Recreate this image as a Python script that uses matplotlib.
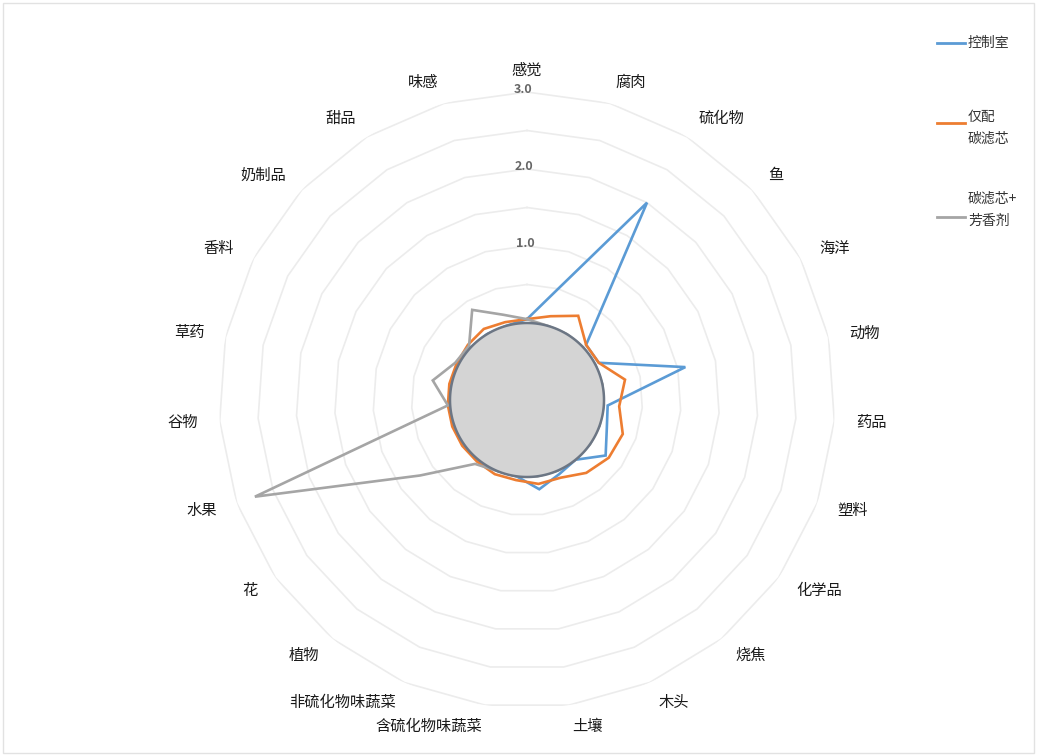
import numpy as np
import matplotlib
matplotlib.use("Agg")
import matplotlib.pyplot as plt
from matplotlib.lines import Line2D
from matplotlib.patches import Rectangle

plt.rcParams['font.family'] = ['Noto Sans CJK SC', 'DejaVu Sans']

# 气味类别（顺时针，从正上方开始）
categories = ['感觉', '腐肉', '硫化物', '鱼', '海洋', '动物', '药品', '塑料', '化学品',
              '烧焦', '木头', '土壤', '含硫化物味蔬菜', '非硫化物味蔬菜', '植物', '花',
              '水果', '谷物', '草药', '香料', '奶制品', '甜品', '味感']

control_room = [0.05, 0.5, 2.0, 0.05, 0.05, 1.1, 0.05, 0.1, 0.25, 0.0, 0.05, 0.17,
                0.0, 0.0, 0.0, 0.0, 0.0, 0.0, 0.0, 0.0, 0.0, 0.0, 0.0]
carbon_only = [0.05, 0.13, 0.28, 0.05, 0.05, 0.3, 0.2, 0.32, 0.3, 0.22, 0.1, 0.1,
               0.05, 0.05, 0.03, 0.03, 0.03, 0.03, 0.03, 0.03, 0.05, 0.08, 0.05]
carbon_aroma = [0.05, 0.0, 0.0, 0.0, 0.0, 0.0, 0.0, 0.0, 0.0, 0.0, 0.0, 0.0,
                0.0, 0.0, 0.07, 0.7, 2.75, 0.03, 0.25, 0.05, 0.03, 0.37, 0.15]

series_names = ['控制室', '仅配\n碳滤芯', '碳滤芯+\n芳香剂']
series_colors = ['#5B9BD5', '#ED7D31', '#A5A5A5']

r_min, r_max = -1.0, 3.0
ring_values = np.arange(-0.5, 3.01, 0.5)
tick_values = [1.0, 2.0, 3.0]

W, H = 1037, 756
fig = plt.figure(figsize=(W / 100, H / 100), dpi=100)
fig.patch.set_facecolor('white')

# 外框
fig.add_artist(Rectangle((3 / W, 3 / H), 1 - 6 / W, 1 - 6 / H, fill=False,
                         edgecolor='#e2e2e2', lw=1.0, transform=fig.transFigure))

# 极坐标轴：中心约 (527, 400) px，3.0 圈半径约 308 px
cx, cy, rad = 527, 400, 308
ax = fig.add_axes([(cx - rad) / W, 1 - (cy + rad) / H, 2 * rad / W, 2 * rad / H],
                  projection='polar')
ax.set_theta_zero_location('N')
ax.set_theta_direction(-1)
ax.set_ylim(r_min, r_max)
ax.set_xticks([])
ax.set_yticks([])
ax.grid(False)
ax.spines['polar'].set_visible(False)
ax.set_facecolor('none')

n = len(categories)
angles = np.arange(n) * 2 * np.pi / n
closed = np.append(angles, angles[0])

# 多边形网格
for v in ring_values:
    ax.plot(closed, np.full(n + 1, v), color='#ececec', lw=1.2, zorder=1)

for vals, color in zip([control_room, carbon_only, carbon_aroma], series_colors):
    ax.plot(closed, np.append(vals, vals[0]), color=color, lw=1.9, zorder=3,
            solid_joinstyle='miter')

# 中心灰色圆盘（数值 0 以内）
t = np.linspace(0, 2 * np.pi, 300)
ax.fill(t, np.zeros_like(t), facecolor='#d4d4d4', edgecolor='#6c7684', lw=1.8, zorder=5)

for v in tick_values:
    ax.text(-0.012, v + 0.03, f'{v:.1f}', ha='center', va='center', fontsize=9,
            color='#666666', fontweight='bold', zorder=6)

label_r = 3.28
for ang, name in zip(angles, categories):
    s = np.sin(ang)
    if s > 0.05:
        ha = 'left'
    elif s < -0.05:
        ha = 'right'
    else:
        ha = 'center'
    ax.text(ang, label_r, name, ha=ha, va='center', fontsize=11, color='#1a1a1a')

# 图例
legend_rows = [(43, 43), (123, 128), (217, 210)]
for (ly, ty), name, color in zip(legend_rows, series_names, series_colors):
    fig.add_artist(Line2D([937 / W, 965 / W], [1 - ly / H, 1 - ly / H],
                          color=color, lw=2.0, transform=fig.transFigure))
    fig.text(968 / W, 1 - ty / H, name, ha='left', va='center', fontsize=10,
             color='#333333', linespacing=1.75)

fig.savefig('out.png', dpi=100, facecolor='white')
